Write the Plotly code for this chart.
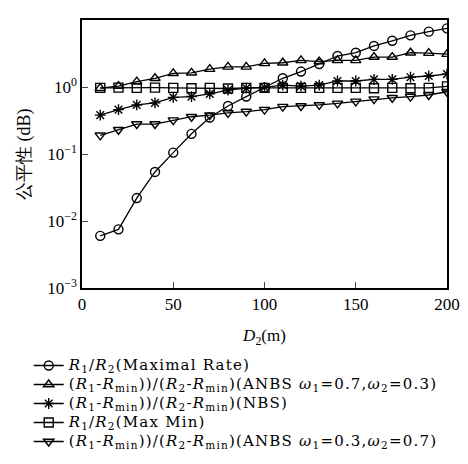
import plotly.graph_objects as go

d2 = [10, 20, 30, 40, 50, 60, 70, 80, 90, 100, 110, 120, 130, 140, 150, 160, 170, 180, 190, 200]

maximal_rate = [0.006, 0.0075, 0.022, 0.054, 0.105, 0.2, 0.35, 0.52, 0.72, 0.98,
                1.35, 1.7, 2.2, 2.9, 3.25, 4.1, 4.9, 5.9, 6.7, 7.5]
anbs_07 = [0.96, 1.03, 1.2, 1.35, 1.6, 1.63, 1.85, 2.0, 2.0, 2.25,
           2.3, 2.5, 2.4, 2.5, 2.5, 2.8, 2.8, 3.25, 3.2, 3.1]
nbs = [0.38, 0.46, 0.54, 0.58, 0.70, 0.72, 0.79, 0.90, 0.96, 0.99,
       1.07, 1.03, 1.07, 1.23, 1.23, 1.3, 1.3, 1.4, 1.46, 1.56]
max_min = [0.97, 0.98, 0.97, 0.98, 0.97, 0.96, 0.97, 0.95, 0.97, 0.97,
           0.97, 0.97, 0.97, 0.97, 0.97, 0.96, 0.97, 0.96, 0.97, 1.02]
anbs_03 = [0.19, 0.23, 0.28, 0.28, 0.32, 0.36, 0.38, 0.41, 0.43, 0.46,
           0.51, 0.52, 0.54, 0.57, 0.61, 0.66, 0.69, 0.72, 0.76, 0.85]

names = [
    "<i>R</i><sub>1</sub>/<i>R</i><sub>2</sub>(Maximal Rate)",
    "(<i>R</i><sub>1</sub>-<i>R</i><sub>min</sub>))/(<i>R</i><sub>2</sub>-<i>R</i><sub>min</sub>)(ANBS <i>ω</i><sub>1</sub>=0.7,<i>ω</i><sub>2</sub>=0.3)",
    "(<i>R</i><sub>1</sub>-<i>R</i><sub>min</sub>))/(<i>R</i><sub>2</sub>-<i>R</i><sub>min</sub>)(NBS)",
    "<i>R</i><sub>1</sub>/<i>R</i><sub>2</sub>(Max Min)",
    "(<i>R</i><sub>1</sub>-<i>R</i><sub>min</sub>))/(<i>R</i><sub>2</sub>-<i>R</i><sub>min</sub>)(ANBS <i>ω</i><sub>1</sub>=0.3,<i>ω</i><sub>2</sub>=0.7)",
]
series = [maximal_rate, anbs_07, nbs, max_min, anbs_03]
symbols = ["circle-open", "triangle-up-open", "asterisk-open", "square-open", "triangle-down-open"]

y_tickvals = [0.001, 0.01, 0.1, 1, 10]
y_ticktext = ["10<sup>−3</sup>", "10<sup>−2</sup>", "10<sup>−1</sup>", "10<sup>0</sup>", "10<sup>1</sup>"]
x_tickvals = [0, 50, 100, 150, 200]
y_title = "公平性 (dB)"
x_title = "<i>D</i><sub>2</sub>(m)"

FONT = "Liberation Serif, serif"
LEG_STYLE = "font-family:DejaVu Serif;font-size:15px;letter-spacing:1.2px"

fig = go.Figure()
for name, ys, sym in zip(names, series, symbols):
    fig.add_trace(go.Scatter(
        x=d2, y=ys, name=f'<span style="{LEG_STYLE}">{name}</span>', mode="lines+markers",
        line=dict(color="black", width=1.3),
        marker=dict(symbol=sym, size=9, color="black", line=dict(color="black", width=1.4)),
    ))

# page body adds an 8px offset: figure is 460x456 so it fits the 468x464 window
fig.update_layout(
    width=460, height=456,
    margin=dict(l=74, r=21, t=12, b=176, autoexpand=False),
    paper_bgcolor="white", plot_bgcolor="white",
    font=dict(family=FONT, size=17, color="black"),
    showlegend=True,
    legend=dict(
        x=-0.146, y=-0.235, xanchor="left", yanchor="top",
        font=dict(family=FONT, size=12, color="black"),
        bgcolor="rgba(0,0,0,0)", tracegroupgap=0,
        itemwidth=30,
    ),
    annotations=[dict(
        text=y_title, textangle=-90, xref="paper", yref="paper",
        x=-0.159, y=0.5, xanchor="center", yanchor="middle", showarrow=False,
        font=dict(family=FONT, size=18, color="black"),
    )],
)
fig.update_xaxes(
    range=[0, 200], tickvals=x_tickvals, ticks="inside", ticklen=6,
    showline=True, linecolor="black", linewidth=1.5, mirror=True,
    showgrid=False, zeroline=False,
    title=dict(text=x_title, standoff=16, font=dict(size=17)),
)
fig.update_yaxes(
    type="log", range=[-3, 1], tickvals=y_tickvals, ticktext=y_ticktext,
    ticks="inside", ticklen=6,
    showline=True, linecolor="black", linewidth=1.5, mirror=True,
    showgrid=False, zeroline=False,
)

fig.write_html("out.html")
